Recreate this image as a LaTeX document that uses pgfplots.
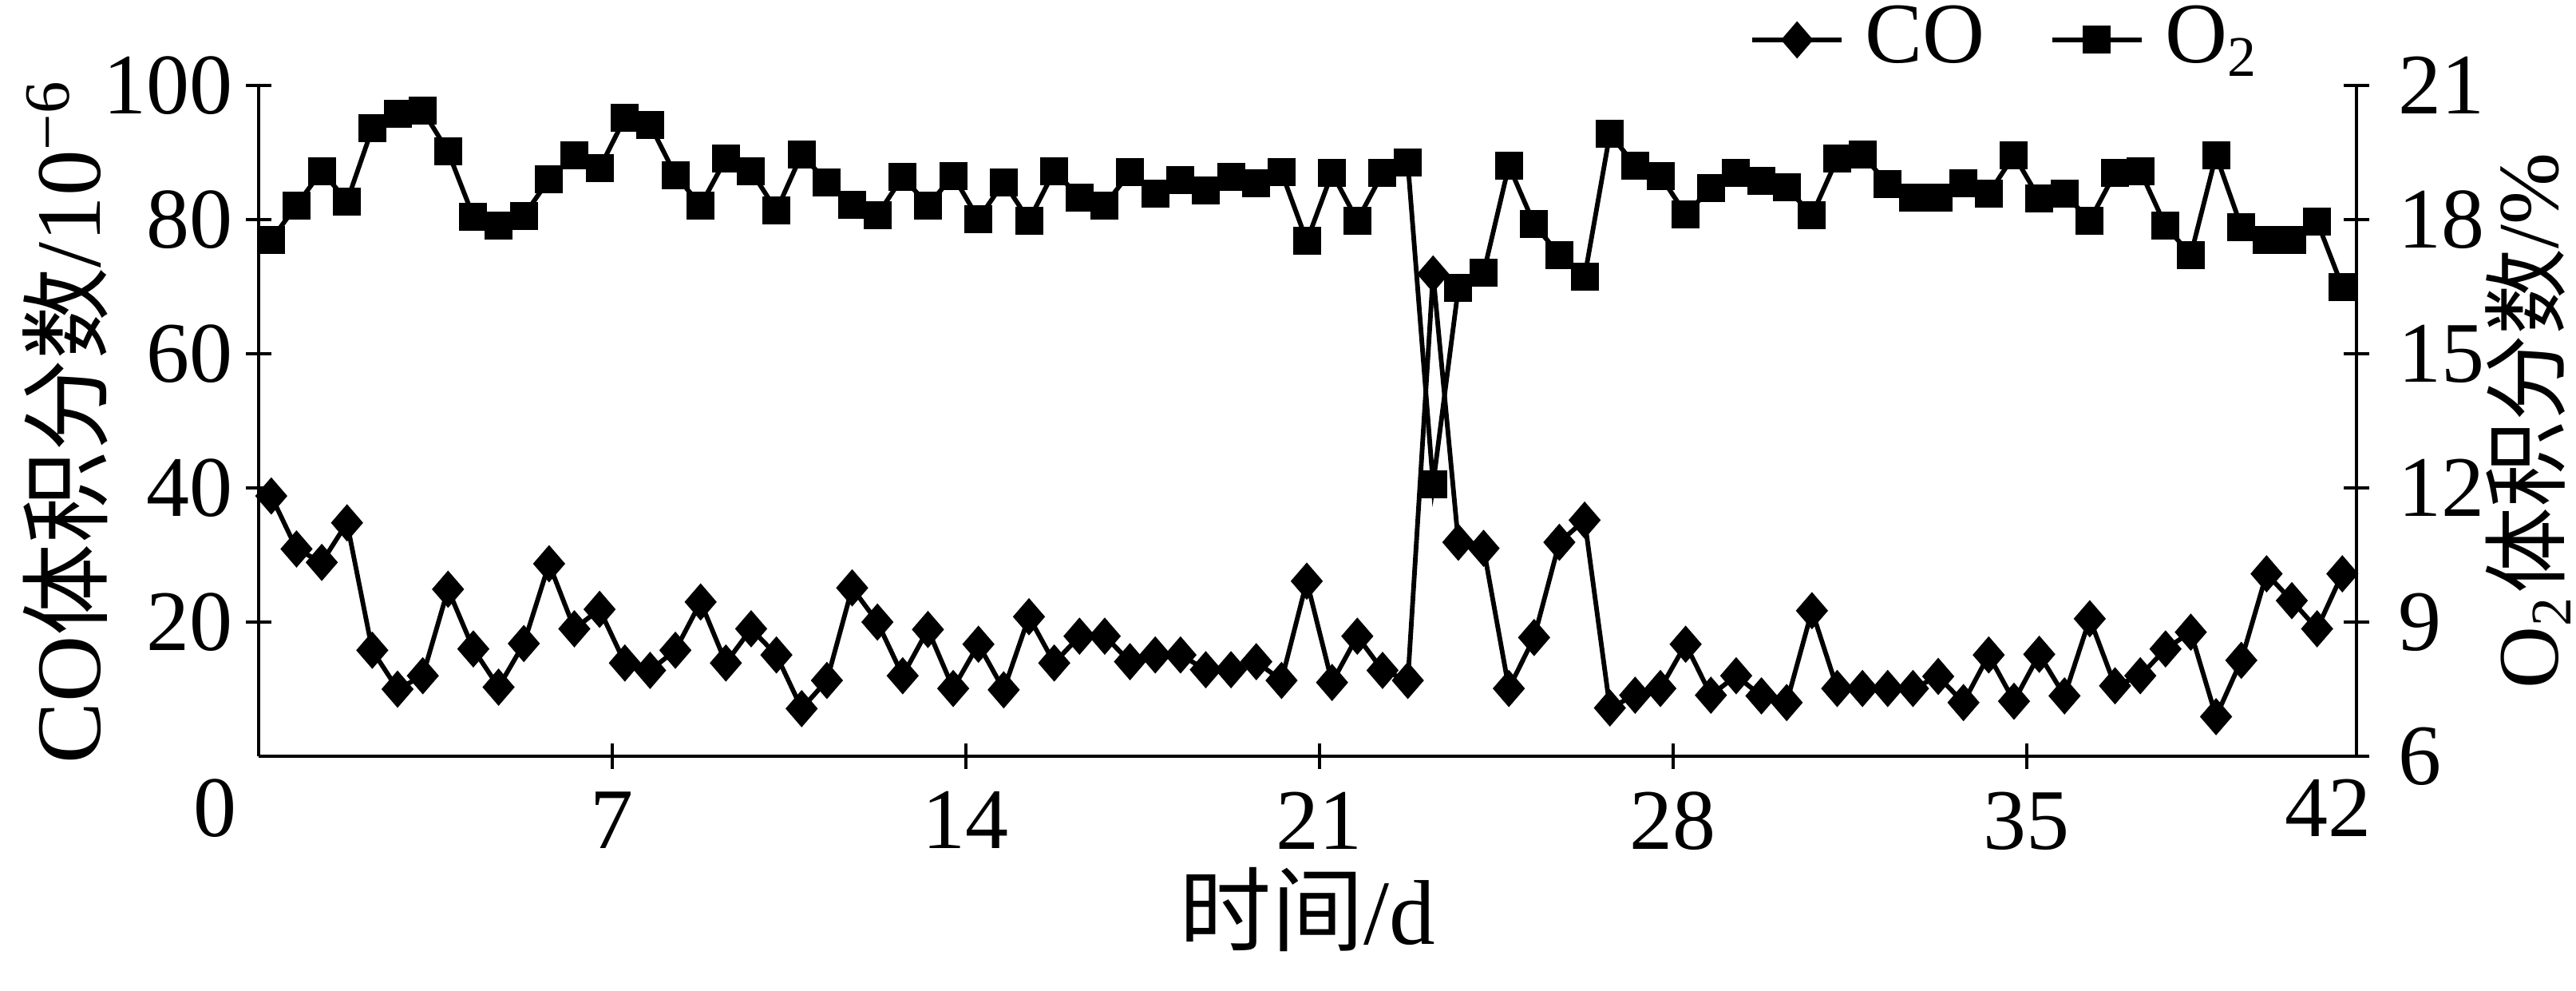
\documentclass[border=0pt]{standalone}
\usepackage{fontspec}
\setmainfont{Liberation Serif}
\newfontfamily\cjk{Noto Sans CJK SC}
\usepackage{pgfplots}
\usepackage{pgfplotstable}
\pgfplotsset{compat=1.18}

% t (d), CO (10^-6), O2 (%)
\pgfplotstableread{
t co o2
0.25 38.8 17.55
0.75 30.9 18.32
1.25 28.9 19.09
1.75 34.8 18.41
2.25 15.8 20.04
2.75 10.0 20.37
3.25 12.0 20.44
3.75 24.9 19.52
4.25 16.0 18.07
4.75 10.3 17.86
5.25 16.8 18.09
5.75 28.7 18.90
6.25 19.0 19.44
6.75 21.9 19.15
7.25 13.9 20.27
7.75 12.8 20.12
8.25 15.8 19.00
8.75 23.0 18.32
9.25 13.9 19.36
9.75 19.0 19.09
10.25 15.1 18.20
10.75 7.1 19.46
11.25 11.3 18.84
11.75 25.1 18.33
12.25 20.0 18.10
12.75 12.0 18.96
13.25 18.9 18.32
13.75 10.1 18.98
14.25 16.7 18.01
14.75 9.9 18.84
15.25 20.8 17.98
15.75 13.9 19.09
16.25 17.9 18.50
16.75 17.9 18.32
17.25 14.1 19.06
17.75 15.1 18.58
18.25 15.1 18.89
18.75 12.9 18.66
19.25 12.9 18.95
19.75 14.1 18.81
20.25 11.3 19.06
20.75 26.1 17.52
21.25 11.0 19.04
21.75 17.9 17.98
22.25 12.8 19.04
22.75 11.3 19.27
23.25 71.9 12.08
23.75 31.9 16.47
24.25 31.0 16.81
24.75 10.1 19.21
25.25 17.7 17.90
25.75 31.9 17.21
26.25 35.2 16.72
26.75 7.2 19.92
27.25 9.1 19.21
27.75 10.1 18.98
28.25 16.7 18.12
28.75 9.1 18.70
29.25 12.0 19.04
29.75 9.0 18.87
30.25 8.0 18.72
30.75 21.7 18.10
31.25 10.1 19.36
31.75 10.1 19.46
32.25 10.1 18.79
32.75 10.1 18.50
33.25 11.9 18.50
33.75 8.0 18.81
34.25 15.1 18.58
34.75 8.2 19.44
35.25 15.2 18.47
35.75 9.0 18.58
36.25 20.5 17.98
36.75 10.5 19.04
37.25 12.0 19.09
37.75 16.0 17.86
38.25 18.5 17.21
38.75 5.9 19.44
39.25 14.3 17.84
39.75 27.2 17.55
40.25 23.2 17.55
40.75 19.0 17.96
41.25 27.2 16.50
}\gasdata

\pgfplotsset{
  gasplot/.style={
    scale only axis,
    width=292pt, height=93.33pt,
    at={(0pt,0pt)}, anchor=south west,
    xmin=0, xmax=41.53,
    tick align=inside,
    major tick length=3.5pt,
    tick style={black, line width=0.5pt},
    label style={font=\fontsize{12.8}{15}\selectfont},
    /pgf/number format/assume math mode=true,
    clip=false,
  },
  noarrows/.style={
    axis line style={-, black, line width=0.5pt},
    x axis line style={-}, y axis line style={-},
    every outer x axis line/.append style={-},
    every outer y axis line/.append style={-},
    every inner x axis line/.append style={-},
    every inner y axis line/.append style={-},
  },
  costyle/.style={black, line width=0.65pt, mark=diamond*, mark size=2.1pt,
    mark options={solid, fill=black, xscale=1.15}},
  o2style/.style={black, line width=0.65pt, mark=square*, mark size=1.62pt,
    mark options={solid, fill=black}},
}

\begin{document}
\begin{tikzpicture}[font=\fontsize{12}{14}\selectfont]
\useasboundingbox (-36pt,-32.56pt) rectangle (322.56pt,105.22pt);

\begin{axis}[gasplot,
  axis x line=bottom, axis y line=left,
  noarrows,
  ymin=0, ymax=100,
  ytick={20,40,60,80,100},
  xtick={7,14,21,28,35},
  extra x ticks={0,41.53},
  extra x tick labels={\makebox[0pt]{\hspace*{-12.2pt}0},\makebox[0pt]{\hspace*{-7.8pt}42}},
  extra x tick style={major tick length=0pt},
  xticklabel style={inner sep=0pt, yshift=-3.0pt},
  yticklabel style={inner sep=0pt, xshift=-1.7pt},
  xlabel={{\cjk 时间}/d},
  ylabel={CO{\cjk 体积分数}/10\textsuperscript{−6}},
  xlabel style={at={(axis description cs:0.5,-0.228)}, anchor=center},
  ylabel style={at={(axis description cs:-0.0921,0.5)}, anchor=center, rotate=0},
]
\addplot[costyle] table[x=t, y=co] {\gasdata};
\end{axis}

\begin{axis}[gasplot,
  axis x line=none, axis y line=right,
  noarrows,
  ymin=6, ymax=21,
  ytick={6,9,12,15,18,21},
  yticklabel style={inner sep=0pt, xshift=3.9pt},
  ylabel={O\textsubscript{2}{\cjk 体积分数}/\%},
  ylabel style={at={(axis description cs:1.0818,0.5)}, anchor=center, rotate=0},
  legend columns=2,
  legend style={at={(axis description cs:0.711,1.068)}, anchor=west,
    draw=none, fill=none, inner sep=0pt, outer sep=0pt,
    nodes={inner sep=0pt},
    /tikz/every odd column/.append style={column sep=3.0pt},
    /tikz/every even column/.append style={column sep=9.0pt}},
  legend cell align=left,
  legend image code/.code={\draw[mark repeat=2,mark phase=2,#1] plot coordinates {(0pt,0pt) (6.2pt,0pt) (12.4pt,0pt)};},
]
\addlegendimage{costyle}
\addlegendentry{CO}
\addplot[o2style] table[x=t, y=o2] {\gasdata};
\addlegendentry{O\textsubscript{2}}
\end{axis}
\end{tikzpicture}
\end{document}
